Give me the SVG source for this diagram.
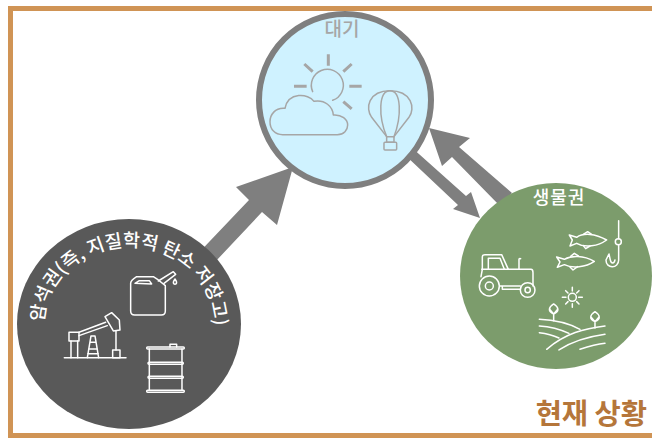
<svg xmlns="http://www.w3.org/2000/svg" width="652" height="438" viewBox="0 0 652 438">
<style>
.cjk{font-family:"Noto Sans CJK KR","Noto Sans",sans-serif;font-weight:500}
.b{font-weight:700}
.ic{fill:none;stroke-width:4.5;stroke-linecap:round;stroke-linejoin:round}
.w{stroke:#fff}.g{stroke:#A6A6A6}
.arr{fill:#7F7F7F}
</style>
<rect width="652" height="438" fill="#fff"/>
<rect id="frame" x="10.5" y="8.5" width="700" height="427" fill="none" stroke="#D09455" stroke-width="5"/>
<g id="connectors">
<polygon class="arr" points="293,167 236,187 249,200 190,262 200,278 262,212 277,225"/>
<polygon class="arr" points="429,128 470,138 459,147 512,193 499,205 452,157 442,166"/>
<polygon class="arr" points="480,218 453,209 458,205 405,155 410,146 466,196 471,192"/>
</g>
<g id="atmosphere">
<circle cx="345" cy="100" r="86" fill="#CFF2FF" stroke="#7F7F7F" stroke-width="6"/>
<text class="cjk" x="342" y="36" font-size="19" fill="#A6A6A6" text-anchor="middle">대기</text>
<g class="ic g" transform="translate(250,0) scale(.3333)">
<path d="M188,275A48,48 0 1 1 248,301"/>
<path stroke-width="9" stroke-linecap="butt" d="M235,163V197M132,259H170M298,259H335M163,192L188,215M305,192L280,215M280,305L305,327"/>
<path d="M98,404H262C282,404 293,390 293,375C293,358 275,343 250,345C248,320 225,298 192,304C175,280 115,275 105,325C75,322 60,345 60,365C60,388 75,404 98,404Z"/>
<path d="M410,410L365,352C345,325 355,272 420,272C485,272 497,325 477,352L432,410"/>
<path d="M410,410C385,350 385,272 420,272C455,272 455,350 432,410"/>
<rect x="410" y="410" width="22" height="17"/>
<rect x="402" y="427" width="38" height="23" rx="3"/>
</g>
</g>
<g id="lithosphere">
<ellipse cx="129" cy="324" rx="112" ry="105" fill="#595959"/>
<path id="lp" d="M44,324A85,77 0 0 1 214,324A85,77 0 0 1 200,366" fill="none"/>
<text class="cjk" font-size="18.6" fill="#fff"><textPath href="#lp" startOffset="2">암석권(즉, 지질학적 탄소 저장고)</textPath></text>
<g class="ic w" transform="translate(10,215) scale(.3333)">
<path d="M380,185H430L445,195L466,212V288Q466,300 454,300H374Q362,300 362,288V205Q362,196 380,185Z"/>
<path d="M375,205L388,197H418L425,207Z"/>
<path d="M445,198L490,170L497,178L462,205"/>
<path d="M495,192Q488,202 491,206Q495,209 499,206Q502,202 495,192Z"/>
<path d="M163,428H348"/>
<rect x="177" y="352" width="30" height="26"/>
<path d="M183,378V428M203,378V428"/>
<path d="M207,352L287,322M207,362L292,332"/>
<path d="M285,305L305,293L328,315L330,345L310,348Z"/>
<path d="M232,428L243,363H255L266,428M240,382H258M236,402H262M233,416H265"/>
<path d="M318,348V405"/>
<rect x="308" y="405" width="22" height="23"/>
<rect x="410" y="396" width="113" height="6" rx="3"/>
<path d="M480,396V388H500V396"/>
<path d="M418,402V526M516,402V526"/>
<rect x="414" y="442" width="106" height="6" rx="3"/>
<rect x="414" y="484" width="106" height="6" rx="3"/>
<rect x="410" y="526" width="113" height="6" rx="3"/>
</g>
</g>
<g id="biosphere">
<ellipse cx="556" cy="276" rx="96" ry="93" fill="#7C9C6C"/>
<text class="cjk" x="559" y="204" font-size="18" letter-spacing="1" fill="#fff" text-anchor="middle">생물권</text>
<g class="ic w" transform="translate(455,180) scale(.3333)">
<path d="M343,165L365,172C385,158 420,160 455,180C430,198 390,205 365,190L345,198L352,180Z"/>
<path d="M385,163L398,155L410,163M385,197L392,206L405,198"/>
<path d="M305,231L328,238C350,226 385,226 418,244C392,262 352,266 328,254L307,262L315,246Z"/>
<path d="M347,229L358,220L370,228M345,261L354,270L368,260"/>
<path d="M491,122V176"/>
<circle cx="490" cy="185" r="9"/>
<path d="M491,194V240C491,266 453,268 453,240L462,222L466,240C468,252 478,252 480,240"/>
<path d="M82,268V230Q82,224 90,224H140L160,268M100,268V235H135L148,268"/>
<path d="M80,268H228Q234,268 234,278V318M82,268L78,290"/>
<path d="M192,268V238Q192,235 197,236"/>
<circle cx="103" cy="318" r="30"/><circle cx="103" cy="318" r="12"/>
<circle cx="218" cy="330" r="22"/><circle cx="218" cy="330" r="8"/>
<path d="M134,318H196M142,318V328H196"/>
<circle cx="352" cy="352" r="12"/>
<path d="M352,322V333M352,371V382M322,352H333M371,352H382M332,332L339,339M372,332L365,339M332,372L339,365M372,372L365,365"/>
<path d="M296,372C280,382 278,395 296,402C314,395 312,382 296,372ZM296,402V422M284,388L296,402M308,388L296,402"/>
<path d="M420,395C404,405 402,418 420,425C438,418 436,405 420,395ZM420,425V444M408,411L420,425M432,411L420,425"/>
<path d="M253,418C300,420 345,432 375,448"/>
<path d="M253,438C285,440 320,450 342,460"/>
<path d="M253,458C270,460 295,466 312,474"/>
<path d="M275,508C330,460 390,445 450,438"/>
<path d="M312,510C350,485 400,470 450,463"/>
<path d="M375,508C400,500 425,493 450,490"/>
</g>
</g>
<text id="title" class="cjk b" x="647" y="424" font-size="28.5" fill="#B5763A" text-anchor="end">현재 상황</text>
</svg>
